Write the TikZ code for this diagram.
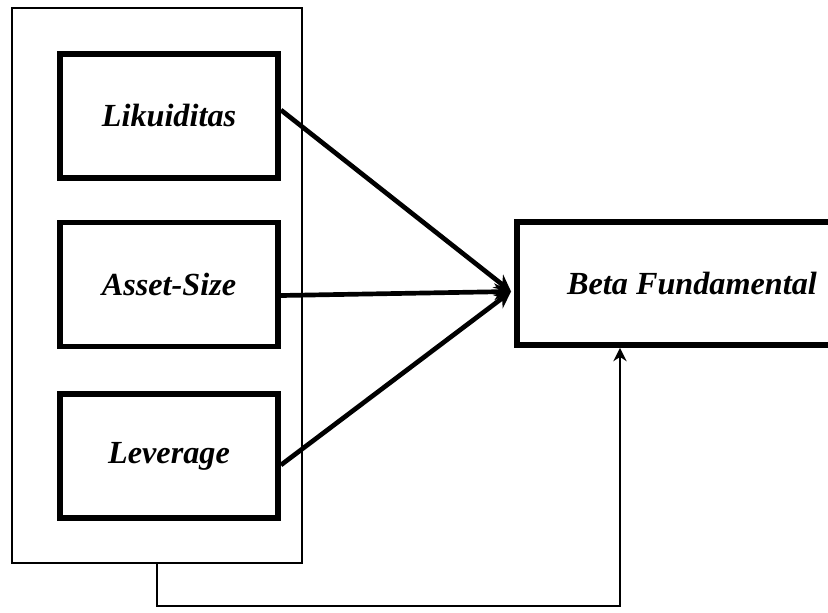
\documentclass[tikz,border=0pt]{standalone}
\usepackage{fontspec}
\setmainfont{Liberation Serif}
\usetikzlibrary{arrows.meta, positioning, calc}
\tikzset{
	varbox/.style  ={rectangle, draw=black, line width=5pt, minimum width=6.54cm, minimum height=3.72cm, align=center, font=\fontsize{27.5}{32}\selectfont\bfseries\itshape},
	groupbox/.style={rectangle, draw=black, line width=1.8pt, minimum width=8.7cm, minimum height=16.65cm},
	effect/.style  ={-{Stealth[length=5mm, width=5mm]}, line width=4pt},
	joint/.style   ={-{Stealth[length=4mm, width=4mm]}, line width=1.6pt},
}
\begin{document}
\begin{tikzpicture}[x=0.03cm, y=-0.03cm]
	\useasboundingbox (0,0) rectangle (828,613);
	\node[groupbox] (grp) at (157,285.5) {};
	\node[varbox] (liq) at (169,116) {\raisebox{-4pt}{Likuiditas}};
	\node[varbox] (size) at (169,284.5) {\raisebox{-3pt}{Asset-Size}};
	\node[varbox] (lev) at (169,456) {Leverage};
	\node[varbox, minimum width=10.5cm, minimum height=3.69cm] (beta) at (692,283.5) {\raisebox{-3pt}{Beta Fundamental}};
	\coordinate (hub) at ($(beta.west)+(-3,8)$);
	\draw[effect] ($(liq.east)+(0,-6)$) -- (hub);
	\draw[effect] ($(size.east)+(0,11)$) -- (hub);
	\draw[effect] ($(lev.east)+(0,9)$) -- (hub);
	\draw[joint] (grp.south) -- ++(0,42) -| ($(beta.south)+(-72,0)$);
\end{tikzpicture}
\end{document}
